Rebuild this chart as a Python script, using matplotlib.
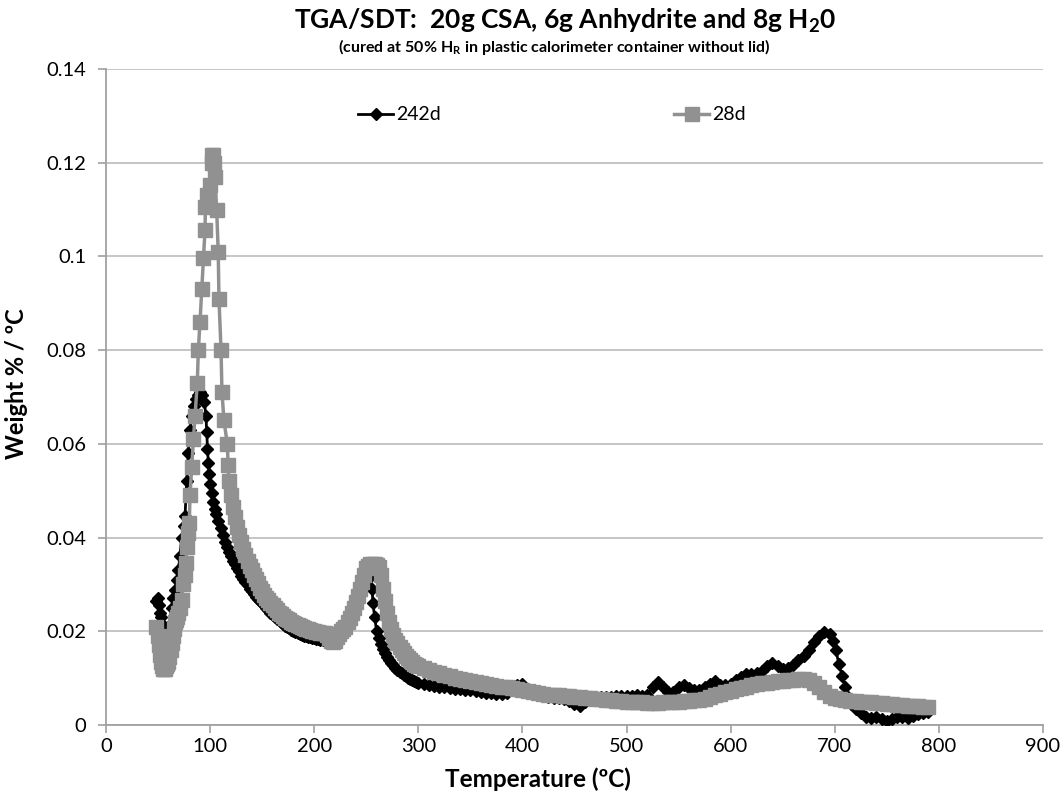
import matplotlib
matplotlib.use("Agg")
import matplotlib.pyplot as plt

plt.rcParams['font.family'] = ['Lato', 'DejaVu Sans']
plt.rcParams['mathtext.fontset'] = 'custom'
plt.rcParams['mathtext.rm'] = 'Lato:bold'
plt.rcParams['mathtext.it'] = 'Lato:bold'
plt.rcParams['mathtext.bf'] = 'Lato:bold'

# ---- data: 242d (black) ----
t242 = [48.5, 49.5, 50.5, 51.5, 52.5, 54, 56, 58, 59.9, 61, 62, 63, 64.5, 66.3, 68, 69.5, 71, 72.7,
        74.5, 75.9, 77.5, 79, 80.7, 82.5, 84.5, 86.5, 88.5, 90.5, 92.5, 94.5, 96, 96.7, 97.5, 98.3,
        99.2, 100.2, 101.5, 103, 104.5, 106, 108, 110, 112, 114, 116, 118, 120, 122, 124, 126, 128,
        130, 132, 134, 136, 138, 140, 142, 144, 146, 148, 150, 152, 154, 156, 158, 160, 162, 164,
        166, 168, 170, 172, 174, 176, 178, 180, 182, 184, 186, 188, 190, 192, 194, 196, 198, 200,
        202, 204, 206, 208, 210, 212, 214, 216, 218, 220, 222, 224, 226, 228, 230, 232, 234, 236,
        238, 240, 242, 244, 246, 248, 250, 252, 254, 255.5, 256.5, 258, 260, 262, 264, 266, 268,
        270, 272, 274, 276, 278, 280, 282, 284, 286, 288, 290, 292, 294, 296, 298,
        300, 305, 310, 315, 320, 325, 330, 335, 340, 345, 350, 355, 360, 365, 370, 375, 380, 385,
        390, 395, 400, 405, 410, 415, 420, 425, 430, 435, 440, 445, 450, 455, 460, 465, 470, 475,
        480, 485, 490, 495, 500, 505, 510, 515, 520, 525, 530, 535, 540, 545, 550, 555, 560, 565,
        570, 575, 580, 585, 590, 595, 600, 605, 610, 615, 620, 625, 630, 635, 640, 645, 650, 655,
        660, 665, 670, 675, 680, 685, 690, 695, 698, 701, 704, 707, 710, 713, 716, 720, 725, 730,
        735, 740, 745, 750, 755, 760, 765, 770, 775, 780, 785, 790]
w242 = [.0265, .027, .0255, .024, .023, .0215, .020, .019, .0185, .019, .0215, .025, .027, .0288, .031,
        .033, .036, .040, .0425, .0445, .052, .058, .063, .066, .068, .0695, .0705, .071, .0705, .069,
        .066, .0625, .059, .056, .0535, .0515, .0495, .0475, .046, .045, .0435, .042, .0405, .039,
        .038, .037, .036, .035, .0343, .0335, .0328,
        .0318, .0311, .0305, .0298, .0291, .0285, .028, .0274, .0269, .0264, .026, .0255, .025,
        .0245, .024, .0235, .0231, .0227, .0223, .0219, .0215, .0212, .0209, .0206, .0203, .020,
        .0198, .0196, .0194, .0192, .019, .0189, .0188, .0187, .0186, .0185, .0184, .0183, .0182,
        .0181, .018, .018, .0179, .0179, .0179, .018, .0185, .019, .0195, .0202, .021, .022, .023,
        .0242, .0255, .027, .0285, .0298, .031, .032, .0328, .033, .0315, .029, .026, .023, .020,
        .0185, .0172, .0162, .0153, .0145, .0139, .0133, .0127, .0122, .0118, .0114, .011, .0107,
        .0104, .0101, .0098, .0096, .0094, .0092,
        .009, .0088, .0086, .0084, .0082, .008, .0078, .0077, .0076, .0075, .0074, .0072, .0071,
        .0069, .0068, .0067, .0066, .0068, .0075, .0085, .0088, .0075, .0067, .0063, .0061, .006,
        .0058, .0057, .0055, .0052, .0045, .004, .0048, .0055, .0058, .006, .006, .006, .0061,
        .0061, .0061, .0062, .0063, .0062, .0065, .008, .0092, .008, .007, .007, .0082, .0086,
        .0078, .0074, .0075, .0082, .0088, .0094, .0086, .0085, .0088, .0095, .0103, .0108, .0108,
        .011, .0115, .0125, .0132, .0125, .012, .0122, .0128, .0138, .0148, .016, .0178, .019,
        .0198, .0195, .018, .016, .013, .0105, .008, .006, .0045, .0035, .0025, .0018, .0015,
        .0017, .0012, .0008, .0012, .0018, .0016, .0015, .002, .0024, .0025, .0028]

# ---- data: 28d (grey) ----
t28 = [48.5, 50, 51, 52, 53, 54, 55, 56, 57, 58, 59, 60, 61, 62, 63, 64, 65, 66, 67, 68, 69.5, 71,
       72.7, 74.2, 75.5, 76.8, 77.5, 79, 80, 80.7, 82.3, 84, 85.5, 87.7, 88.7, 90.3, 92, 93.5, 95.1,
       95.5, 97.5, 99.9, 101.5, 101.5, 102.5, 103.5, 104.7, 106.3, 107.8, 108.5, 110.5, 111.4, 113.3,
       116.5, 117.4,
       118, 120, 122, 124, 126, 128, 130, 132, 134, 136, 138, 140, 142, 144, 146, 148, 150, 152, 154,
       156, 158, 160, 162, 164, 166, 168, 170, 172, 174, 176, 178, 180, 182, 184, 186, 188, 190, 192,
       194, 196, 198, 200, 202, 204, 206, 208, 210, 212, 214, 216, 218, 220, 222, 224, 226, 228, 230,
       232, 234, 236, 238, 240, 242, 244, 246, 248, 250, 252, 254, 256, 258, 260, 262, 264, 266, 268,
       270, 272, 274, 276, 278, 280, 282, 284, 286, 288, 290, 292, 294, 296, 298,
       300, 305, 310, 315, 320, 325, 330, 335, 340, 345, 350, 355, 360, 365, 370, 375, 380, 385, 390,
       395, 400, 405, 410, 415, 420, 425, 430, 435, 440, 445, 450, 455, 460, 465, 470, 475, 480, 485,
       490, 495, 500, 505, 510, 515, 520, 525, 530, 535, 540, 545, 550, 555, 560, 565, 570, 575, 580,
       585, 590, 595, 600, 605, 610, 615, 620, 625, 630, 635, 640, 645, 650, 655, 660, 665, 670, 675,
       680, 685, 690, 695, 700, 705, 710, 715, 720, 725, 730, 735, 740, 745, 750, 755, 760, 765, 770,
       775, 780, 785, 790]
w28 = [.021, .019, .017, .015, .0135, .0125, .012, .012, .012, .0125, .013, .0135, .0145, .016, .0175,
       .019, .0205, .022, .0225, .023, .024, .025, .0267, .030, .032, .0345, .038, .041, .043, .049,
       .055, .061, .066, .073, .080, .086, .093, .0996, .1056, .1106, .1130, .1152, .1199, .1216,
       .1216, .1200, .117, .110, .101, .091, .080, .071, .065, .060, .0555,
       .052, .049, .0465, .0443, .0423, .0405, .039, .0375, .0362, .035, .034, .033, .032, .0311,
       .0302, .0293, .0285, .0278, .0272, .0266, .026, .0255, .025, .0245, .024, .0236, .0232,
       .0229, .0226, .0223, .022, .0217, .0215, .0213, .0211, .0209, .0207, .0205, .0204, .0202,
       .0201, .020, .0199, .0198, .0197, .0197, .0196, .0192, .0185, .018, .0178, .018, .0188,
       .0195, .020, .0205, .021, .022, .0228, .024, .025, .0262, .0275, .029, .0305, .032, .0335,
       .034, .0343, .0343, .0343, .0342, .0338, .032, .029, .0265, .024, .022, .0205, .0192, .0182,
       .0174, .0167, .016, .0154, .0148, .0143, .0139, .0135, .0131, .0128,
       .0125, .0121, .0117, .0113, .011, .0107, .0104, .0101, .0098, .0096, .0094, .0092, .009,
       .0088, .0086, .0084, .0082, .008, .0078, .0076, .0074, .0072, .007, .0068, .0067, .0065,
       .0064, .0063, .0062, .0061, .006, .0059, .0058, .0057, .0056, .0055, .0054, .0053, .0052,
       .0051, .005, .005, .0049, .0048, .0047, .0047, .0047, .0048, .0048, .0049, .005, .0051,
       .0052, .0053, .0054, .0056, .006, .0064, .0067, .007, .0073, .0076, .0079, .0082, .0085,
       .0087, .0089, .009, .0091, .0093, .0094, .0095, .0097, .0098, .0099, .0097, .0089, .008,
       .007, .0062, .0057, .0055, .0053, .0052, .0051, .005, .0049, .0048, .0047, .0046, .0045,
       .0044, .0043, .0042, .0041, .004, .004, .0039, .0039]

series_labels = ['242d', '28d']
x_ticks = [0, 100, 200, 300, 400, 500, 600, 700, 800, 900]
y_ticks = [0, 0.02, 0.04, 0.06, 0.08, 0.1, 0.12, 0.14]
y_tick_labels = ['0', '0.02', '0.04', '0.06', '0.08', '0.1', '0.12', '0.14']

fig = plt.figure(figsize=(10.62, 8.0), dpi=100)
ax = fig.add_axes([0.0998, 0.0938, 0.8823, 0.82])

grey = '#919191'
ax.plot(t242, w242, color='black', lw=2.0, marker='D', ms=6.5, mfc='black', mec='black',
        label=series_labels[0], zorder=3)
ax.plot(t28, w28, color=grey, lw=2.5, marker='s', ms=9.5, mfc=grey, mec=grey,
        label=series_labels[1], zorder=4)

ax.set_xlim(0, 900)
ax.set_ylim(0, 0.14)
ax.set_xticks(x_ticks)
ax.set_yticks(y_ticks)
ax.set_yticklabels(y_tick_labels)
ax.tick_params(axis='both', labelsize=14.5, color='#a0a0a0', length=6, width=1.2, direction='out')
ax.tick_params(axis='y', pad=8)
ax.yaxis.grid(True, color='#c0c0c0', lw=1.3)
ax.set_axisbelow(True)
for s in ['top', 'right']:
    ax.spines[s].set_visible(False)
for s in ['left', 'bottom']:
    ax.spines[s].set_color('#a0a0a0')
    ax.spines[s].set_linewidth(1.3)

ax.set_xlabel('Temperature (ºC)', fontsize=17.5, fontweight='bold')
ax.xaxis.set_label_coords(0.461, -0.065)
ax.set_ylabel('Weight % / ºC', fontsize=17, fontweight='bold')
ax.yaxis.set_label_coords(-0.083, 0.52)

fig.text(0.532, 0.974, r'TGA/SDT:  20g CSA, 6g Anhydrite and 8g H$_{2}$0', ha='center', va='center',
         fontsize=19, fontweight='bold')
fig.text(0.522, 0.941, r'(cured at 50% H$_{R}$ in plastic calorimeter container without lid)',
         ha='center', va='center', fontsize=11.5, fontweight='bold')

leg = ax.legend(loc='center', bbox_to_anchor=(0.476, 0.93), ncol=2, frameon=False, fontsize=14,
                handlelength=1.8, handletextpad=0.15, columnspacing=12)

fig.savefig('out.png', dpi=100)
